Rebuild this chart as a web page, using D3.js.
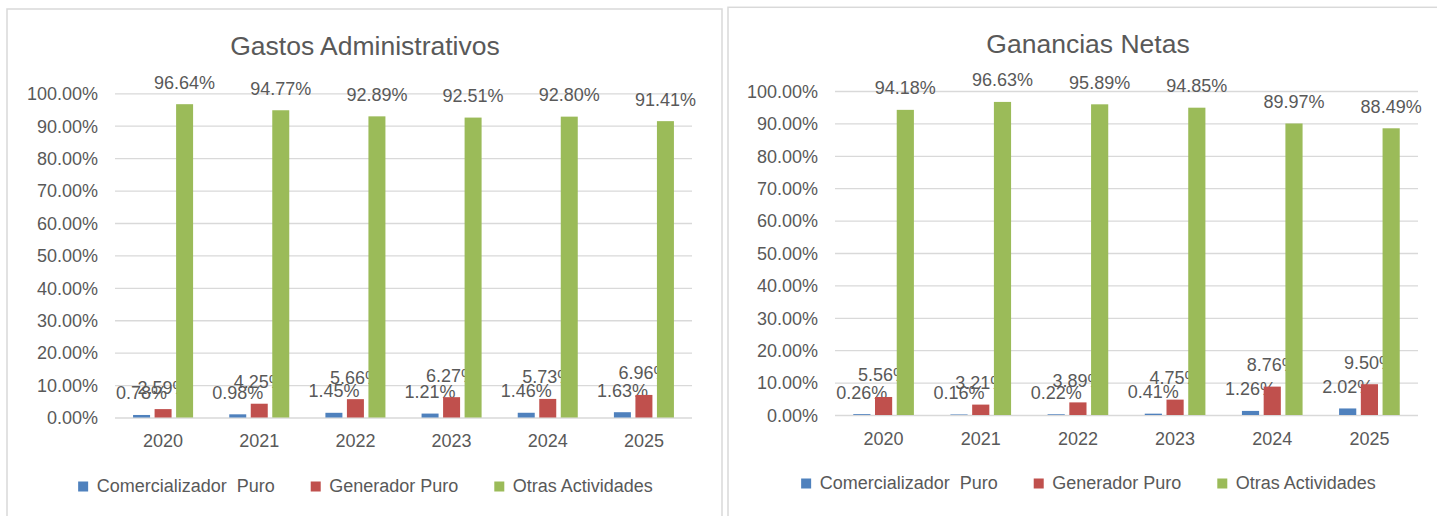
<!DOCTYPE html>
<html>
<head>
<meta charset="utf-8">
<script src="https://cdn.jsdelivr.net/npm/d3@7"></script>
<style>
    body { margin: 0; background: #fff; }
    svg text { font-family: "Liberation Sans", Arial, sans-serif; fill: #595959; }
</style>
</head>
<body>
<svg id="chart" width="1437" height="516"></svg>
<script>
// data
const years = ['2020', '2021', '2022', '2023', '2024', '2025'];
const seriesNames = ['Comercializador  Puro', 'Generador Puro', 'Otras Actividades'];
const seriesColors = ['#4F81BD', '#C0504D', '#9BBB59'];
const yTicks = [0, 10, 20, 30, 40, 50, 60, 70, 80, 90, 100];

const gastosComercializador = [0.78, 0.98, 1.45, 1.21, 1.46, 1.63];
const gastosGenerador = [2.59, 4.25, 5.66, 6.27, 5.73, 6.96];
const gastosOtras = [96.64, 94.77, 92.89, 92.51, 92.80, 91.41];

const gananciasComercializador = [0.26, 0.16, 0.22, 0.41, 1.26, 2.02];
const gananciasGenerador = [5.56, 3.21, 3.89, 4.75, 8.76, 9.50];
const gananciasOtras = [94.18, 96.63, 95.89, 94.85, 89.97, 88.49];

const svg = d3.select('#chart');

function drawChart(cfg) {
    const g = svg.append('g');

    // chart frame
    g.append('rect')
        .attr('x', cfg.box.x + 0.5)
        .attr('y', cfg.box.y + 0.5)
        .attr('width', cfg.box.w)
        .attr('height', cfg.box.h)
        .attr('fill', 'none')
        .attr('stroke', '#D9D9D9')
        .attr('stroke-width', 1.5);

    // title
    g.append('text')
        .attr('x', cfg.titleX)
        .attr('y', cfg.titleY)
        .attr('text-anchor', 'middle')
        .attr('font-size', '26.5px')
        .text(cfg.title);

    const x0 = d3.scaleBand()
        .domain(years)
        .range([cfg.left, cfg.right])
        .paddingInner(0)
        .paddingOuter(0);

    const x1 = d3.scaleBand()
        .domain(seriesNames)
        .range([0, x0.bandwidth()])
        .paddingInner(0.21)
        .paddingOuter(0.84);

    const y = d3.scaleLinear()
        .domain([0, 100])
        .range([cfg.bottom, cfg.top]);

    // y axis + gridlines
    const yAxis = g.append('g')
        .attr('transform', `translate(${cfg.left},0)`)
        .call(d3.axisLeft(y)
            .tickValues(yTicks)
            .tickSize(-(cfg.right - cfg.left))
            .tickPadding(17)
            .tickFormat(d => d.toFixed(2) + '%'));
    yAxis.select('.domain').remove();
    yAxis.selectAll('line')
        .attr('stroke', '#D9D9D9')
        .attr('stroke-width', 1.3);
    yAxis.selectAll('text')
        .attr('font-size', '18px')
        .attr('dy', '0.35em')
        .attr('fill', '#595959');

    // x axis labels
    const xAxis = g.append('g')
        .attr('transform', `translate(0,${cfg.bottom})`)
        .call(d3.axisBottom(x0).tickSize(0).tickPadding(0));
    xAxis.select('.domain').remove();
    xAxis.selectAll('text')
        .attr('font-size', '18px')
        .attr('dy', null)
        .attr('y', 29.5)
        .attr('fill', '#595959');

    // bars and labels
    cfg.series.forEach((values, si) => {
        const name = seriesNames[si];
        const rows = years.map((yr, i) => ({ year: yr, value: values[i] }));

        g.selectAll('.bar-' + si)
            .data(rows)
            .enter()
            .append('rect')
            .attr('x', d => x0(d.year) + x1(name))
            .attr('y', d => y(d.value))
            .attr('width', x1.bandwidth())
            .attr('height', d => y(0) - y(d.value))
            .attr('fill', seriesColors[si]);

        g.selectAll('.label-' + si)
            .data(rows)
            .enter()
            .append('text')
            .attr('x', d => x0(d.year) + x1(name) + x1.bandwidth() / 2)
            .attr('y', d => y(d.value) - 15.5)
            .attr('text-anchor', 'middle')
            .attr('font-size', '18px')
            .text(d => d.value.toFixed(2) + '%');
    });

    // legend, centred under the chart
    const legend = g.append('g');
    let cursor = 0;
    seriesNames.forEach((name, i) => {
        legend.append('rect')
            .attr('x', cursor)
            .attr('y', cfg.legendY - 10)
            .attr('width', 10)
            .attr('height', 10)
            .attr('fill', seriesColors[i]);
        const t = legend.append('text')
            .attr('x', cursor + 18.5)
            .attr('y', cfg.legendY)
            .attr('font-size', '18px')
            .attr('xml:space', 'preserve')
            .style('white-space', 'pre')
            .text(name);
        cursor += 18.5 + t.node().getComputedTextLength() + 36;
    });
    const legendWidth = cursor - 36;
    legend.attr('transform', `translate(${cfg.legendX - legendWidth / 2},0)`);
}

drawChart({
    title: 'Gastos Administrativos',
    box: { x: 6.5, y: 8.5, w: 715, h: 560 },
    titleX: 365, titleY: 55,
    left: 115, right: 692, top: 93.3, bottom: 417.5,
    legendX: 365.5, legendY: 491.5,
    series: [gastosComercializador, gastosGenerador, gastosOtras]
});

drawChart({
    title: 'Ganancias Netas',
    box: { x: 727.5, y: 6.8, w: 720, h: 560 },
    titleX: 1088, titleY: 52.5,
    left: 835, right: 1418, top: 91, bottom: 415,
    legendX: 1088.5, legendY: 488.5,
    series: [gananciasComercializador, gananciasGenerador, gananciasOtras]
});
</script>
</body>
</html>
